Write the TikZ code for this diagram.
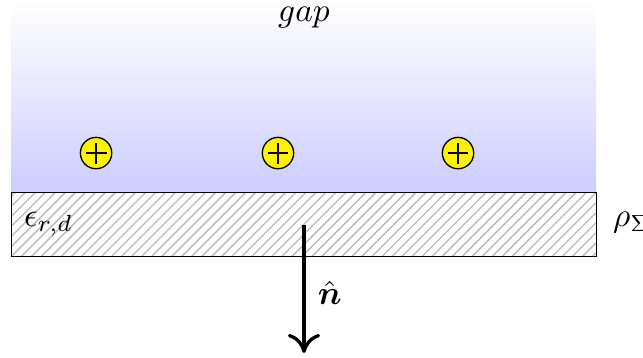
\documentclass[tikz,border=0pt]{standalone}
\usepackage{tikz}
\usetikzlibrary{arrows.meta,patterns,calc}
\usepackage{bm}
\tikzset{
  gapregion/.style={top color=white,bottom color=blue!20,draw=none},
  slab/.style={draw=black,line width=0.3pt,pattern=north east lines,pattern color=gray!55},
  charge/.style={circle,draw=black,fill=yellow,minimum size=3.3mm,inner sep=0pt,
    path picture={\draw[black] ($(path picture bounding box.center)+(-1.1mm,0)$) -- ($(path picture bounding box.center)+(1.1mm,0)$)
      ($(path picture bounding box.center)+(0,-1.1mm)$) -- ($(path picture bounding box.center)+(0,1.1mm)$);}},
  normal/.style={-{To[length=2mm,width=3.4mm]},line width=1pt},
}
\begin{document}
\begin{tikzpicture}
\useasboundingbox (0,0) rectangle (6.768,-3.768);

% gap above the dielectric
\fill[gapregion] (0.116,0) rectangle (6.274,-2.021);
\node (gaplbl) at (3.2,-0.19) {$gap$};

% dielectric slab
\draw[slab] (0.116,-2.021) rectangle (6.274,-2.705);
\node[anchor=west] (eps) at (0.13,-2.36) {$\epsilon_{r,d}$};
\node[anchor=west] (rho) at (6.33,-2.34) {$\rho_\Sigma$};

% surface charges
\node[charge] (q1) at (1.011,-1.611) {};
\node[charge] (q2) at (2.926,-1.611) {};
\node[charge] (q3) at (4.821,-1.611) {};

% normal vector
\coordinate (ntail) at (3.2,-2.368);
\coordinate (nhead) at (3.2,-3.715);
\draw[normal] (ntail) -- (nhead);
\node (nlbl) at (3.47,-3.084) {$\hat{\bm n}$};

\end{tikzpicture}
\end{document}
